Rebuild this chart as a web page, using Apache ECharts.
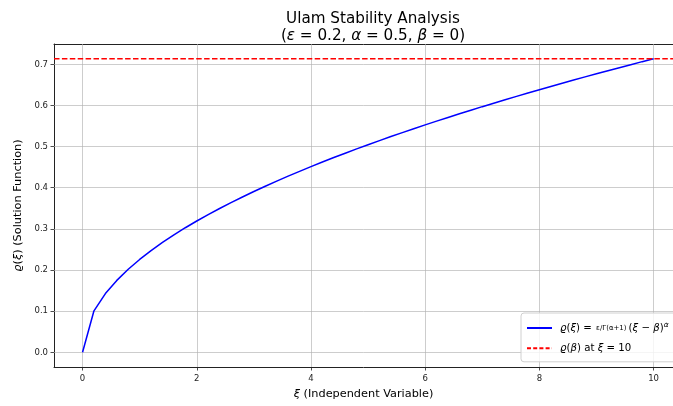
<!DOCTYPE html>
<html>
<head>
<meta charset="utf-8">
<script src="https://cdn.jsdelivr.net/npm/echarts@6/dist/echarts.min.js"></script>
<style>html,body{margin:0;padding:0;background:#fff}#c{width:673px;height:406px}</style>
</head>
<body>
<div id="c"></div>
<script>
// Sample points xi (independent variable)
const xiValues = [0,0.2,0.4,0.6,0.8,1.0,1.2,1.4,1.6,1.8,2.0,2.2,2.4,2.6,2.8,3.0,3.2,3.4,3.6,3.8,4.0,4.2,4.4,4.6,4.8,5.0,5.2,5.4,5.6,5.8,6.0,6.2,6.4,6.6,6.8,7.0,7.2,7.4,7.6,7.8,8.0,8.2,8.4,8.6,8.8,9.0,9.2,9.4,9.6,9.8,10.0];
// Solution function values rho(xi)
const rhoValues = [0,0.1009,0.1427,0.1748,0.2019,0.2257,0.2472,0.2670,0.2855,0.3028,0.3192,0.3347,0.3496,0.3639,0.3776,0.3909,0.4037,0.4161,0.4282,0.4399,0.4514,0.4625,0.4734,0.4840,0.4944,0.5046,0.5146,0.5244,0.5340,0.5435,0.5528,0.5619,0.5709,0.5798,0.5885,0.5971,0.6056,0.6139,0.6221,0.6303,0.6383,0.6462,0.6541,0.6618,0.6695,0.6770,0.6845,0.6919,0.6992,0.7065,0.7137];
// Reference level rho(beta) at xi = 10
const refLevel = 0.7137;
const xTicks = [0,2,4,6,8,10];
const yTicks = [0,0.1,0.2,0.3,0.4,0.5,0.6,0.7];
const xRange = [-0.5, 10.34];
const yRange = [-0.0357, 0.7494];

const FONT = '"DejaVu Sans", sans-serif';

const chart = echarts.init(document.getElementById('c'), null, {renderer: 'canvas'});
const mainData = xiValues.map((x, i) => [x, rhoValues[i]]);
const refData = [[xRange[0], refLevel], [xRange[1], refLevel]];

chart.setOption({
  animation: false,
  backgroundColor: '#fff',
  title: {
    text: 'Ulam Stability Analysis\n({i|ε} = 0.2, {i|α} = 0.5, {i|β} = 0)',
    left: 368, top: 6, textAlign: 'center',
    textStyle: {
      fontFamily: FONT, fontWeight: 'normal', fontSize: 15.2, color: '#000', lineHeight: 17,
      rich: {i: {fontFamily: FONT, fontStyle: 'italic', fontSize: 15.2, color: '#000', lineHeight: 17}}
    }
  },
  grid: {left: 54, top: 44, bottom: 39, right: 0, containLabel: false},
  xAxis: [{
    type: 'value', min: xRange[0], max: xRange[1],
    name: '{i|ξ} (Independent Variable)', nameLocation: 'middle', nameGap: 22,
    nameTextStyle: {fontFamily: FONT, fontSize: 11.3, color: '#000', rich: {i: {fontFamily: FONT, fontStyle: 'italic', fontSize: 11.3, color: '#000'}}},
    axisLine: {show: true, onZero: false, lineStyle: {color: '#222', width: 1}},
    axisTick: {show: true, length: 3.5, customValues: xTicks, lineStyle: {color: '#222', width: 0.8}},
    axisLabel: {customValues: xTicks, fontFamily: FONT, fontSize: 8.5, color: '#222', margin: 7, formatter: v => String(v)},
    splitLine: {show: false}
  }, {
    type: 'value', min: xRange[0], max: xRange[1], position: 'top',
    axisLine: {show: true, onZero: false, lineStyle: {color: '#222', width: 1}},
    axisTick: {show: false}, axisLabel: {show: false}, splitLine: {show: false}
  }],
  yAxis: {
    type: 'value', min: yRange[0], max: yRange[1],
    name: '{i|ϱ}({i|ξ}) (Solution Function)', nameLocation: 'middle', nameGap: 24,
    nameTextStyle: {fontFamily: FONT, fontSize: 11.3, color: '#000', rich: {i: {fontFamily: FONT, fontStyle: 'italic', fontSize: 11.3, color: '#000'}}},
    axisLine: {show: true, onZero: false, lineStyle: {color: '#222', width: 1}},
    axisTick: {show: true, length: 3.5, customValues: yTicks, lineStyle: {color: '#222', width: 0.8}},
    axisLabel: {customValues: yTicks, fontFamily: FONT, fontSize: 8.5, color: '#222', margin: 6, formatter: v => v.toFixed(1)},
    splitLine: {show: false}
  },
  legend: {
    orient: 'vertical', left: 521, top: 313,
    backgroundColor: 'rgba(255,255,255,0.8)', borderColor: '#d0d0d0', borderWidth: 1, borderRadius: 3,
    padding: [8, 30, 8, 5], itemGap: 9, itemWidth: 25, itemHeight: 14,
    itemStyle: {color: 'rgba(0,0,0,0)', borderWidth: 0, opacity: 0},
    data: ['main', {name: 'ref', lineStyle: {type: [4, 2.2]}}],
    formatter: function (name) {
      if (name === 'main') return '{p|}{i|ϱ}({i|ξ}) = {f|ε/Γ(α+1)}({i|ξ} − {i|β}){s|α}';
      return '{p|}{i|ϱ}({i|β}) at {i|ξ} = 10';
    },
    textStyle: {
      fontFamily: FONT, fontSize: 10.2, color: '#000',
      rich: {
        p: {width: 3},
        i: {fontFamily: FONT, fontStyle: 'italic', fontSize: 10.2, color: '#000'},
        f: {fontFamily: FONT, fontSize: 7, color: '#000', padding: [0, 2, 0, 1]},
        s: {fontFamily: FONT, fontStyle: 'italic', fontSize: 7.5, color: '#000', verticalAlign: 'top', padding: [0, 0, 6, 0]}
      }
    }
  },
  series: [
    {
      name: 'main', type: 'line', data: mainData, symbol: 'none', showSymbol: false,
      lineStyle: {color: '#0000ff', width: 1.5}, itemStyle: {color: '#0000ff'}, z: 3,
      markLine: {
        silent: true, symbol: 'none', label: {show: false}, animation: false,
        lineStyle: {color: '#b0b0b0', width: 0.8, type: 'solid', opacity: 0.8},
        data: xTicks.map(v => ({xAxis: v})).concat(yTicks.map(v => ({yAxis: v}))),
        z: 1
      }
    },
    {
      name: 'ref', type: 'line', data: refData, symbol: 'none', showSymbol: false,
      lineStyle: {color: '#ff0000', width: 1.5, type: [5.5, 2.4]}, itemStyle: {color: '#ff0000'}, z: 4
    }
  ]
});
</script>
</body>
</html>
